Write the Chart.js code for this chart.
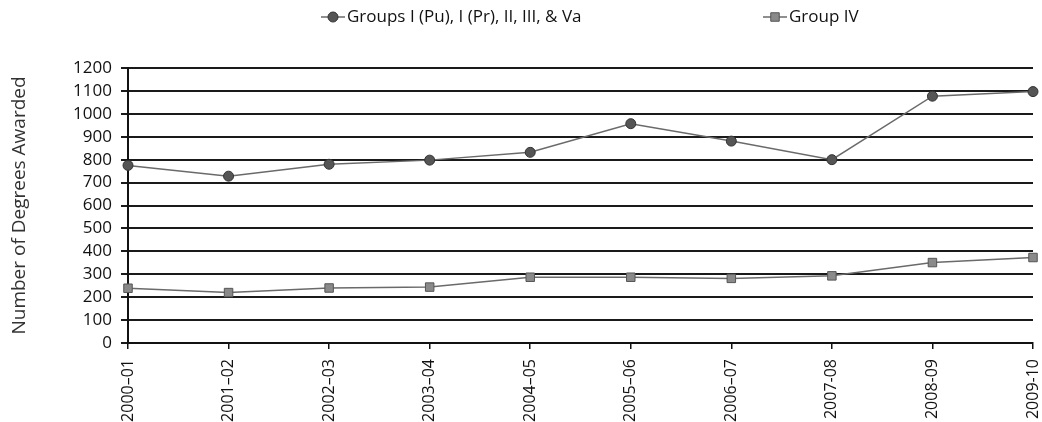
<!DOCTYPE html>
<html>
<head>
<meta charset="utf-8">
<script src="https://cdn.jsdelivr.net/npm/chart.js@4/dist/chart.umd.min.js"></script>
<style>
  html, body { margin: 0; padding: 0; background: #fff; }
  #wrap { width: 1042px; height: 422px; position: relative; }
</style>
</head>
<body>
<div id="wrap"><canvas id="degreesChart" width="1042" height="422"></canvas></div>
<script>
// Academic years on the x axis
const years = ["2000\u201301", "2001\u201302", "2002\u201303", "2003\u201304", "2004\u201305",
  "2005\u201306", "2006\u201307", "2007-08", "2008-09", "2009-10"];

// Number of degrees awarded per year
const groupsMain = [775, 728, 780, 798, 832, 957, 881, 800, 1077, 1097];
const groupIV = [239, 220, 240, 244, 287, 287, 282, 293, 351, 373];

const seriesNames = ["Groups I (Pu), I (Pr), II, III, & Va", "Group IV"];

const FONT = "'Open Sans', sans-serif";

// Legend drawn by hand so the two items sit where the original has them
const legendPlugin = {
  id: "manualLegend",
  afterDraw(chart) {
    const ctx = chart.ctx;
    const items = [
      { x: 321, ds: chart.data.datasets[0] },
      { x: 763, ds: chart.data.datasets[1] }
    ];
    const y = 17;
    ctx.save();
    items.forEach(item => {
      ctx.strokeStyle = item.ds.borderColor;
      ctx.lineWidth = 1.5;
      ctx.beginPath();
      ctx.moveTo(item.x, y);
      ctx.lineTo(item.x + 24, y);
      ctx.stroke();
      ctx.fillStyle = item.ds.pointBackgroundColor;
      ctx.strokeStyle = item.ds.pointBorderColor;
      ctx.lineWidth = 1;
      Chart.helpers.drawPoint(ctx, {
        pointStyle: item.ds.pointStyle,
        radius: item.ds.pointRadius,
        borderWidth: 1,
        rotation: 0
      }, item.x + 12, y);
      ctx.fillStyle = "#111";
      ctx.font = "17px " + FONT;
      ctx.textBaseline = "middle";
      ctx.fillText(item.ds.label, item.x + 26, y);
    });
    ctx.restore();
  }
};

const ctx = document.getElementById("degreesChart").getContext("2d");
const degreesChart = new Chart(ctx, {
  type: "line",
  data: {
    labels: years,
    datasets: [
      {
        label: seriesNames[0],
        data: groupsMain,
        borderColor: "#6a6a6a",
        borderWidth: 1.5,
        pointStyle: "circle",
        pointRadius: 5,
        pointBackgroundColor: "#555",
        pointBorderColor: "#333",
        pointBorderWidth: 1,
        tension: 0
      },
      {
        label: seriesNames[1],
        data: groupIV,
        borderColor: "#6a6a6a",
        borderWidth: 1.5,
        pointStyle: "rect",
        pointRadius: 6,
        pointBackgroundColor: "#8a8a8a",
        pointBorderColor: "#555",
        pointBorderWidth: 1,
        tension: 0
      }
    ]
  },
  options: {
    responsive: false,
    animation: false,
    layout: { padding: { top: 68, right: 9, left: 8, bottom: 0 } },
    plugins: {
      legend: { display: false },
      tooltip: { enabled: false }
    },
    scales: {
      x: {
        offset: false,
        grid: {
          drawOnChartArea: false,
          drawTicks: true,
          tickLength: 6,
          color: "#111",
          lineWidth: 1.5
        },
        border: { color: "#111", width: 2 },
        ticks: {
          color: "#111",
          font: { family: FONT, size: 16 },
          minRotation: 90,
          maxRotation: 90,
          autoSkip: false,
          padding: 10
        },
        afterFit(scale) {
          scale.height = 79;
          scale.paddingRight = 0;
          scale.paddingLeft = 0;
        }
      },
      y: {
        min: 0,
        max: 1200,
        grid: {
          color: "#1a1a1a",
          lineWidth: 2,
          tickLength: 7
        },
        border: { color: "#111", width: 2 },
        ticks: {
          stepSize: 100,
          autoSkip: false,
          color: "#111",
          font: { family: FONT, size: 17 },
          padding: 9,
          callback: value => String(value)
        },
        title: {
          display: true,
          text: "Number of Degrees Awarded",
          color: "#333",
          font: { family: FONT, size: 19 },
          padding: { top: 0, bottom: 8 }
        },
        afterFit(scale) {
          scale.width = 120;
          scale.paddingTop = 0;
          scale.paddingBottom = 0;
        }
      }
    }
  },
  plugins: [legendPlugin]
});
</script>
</body>
</html>
